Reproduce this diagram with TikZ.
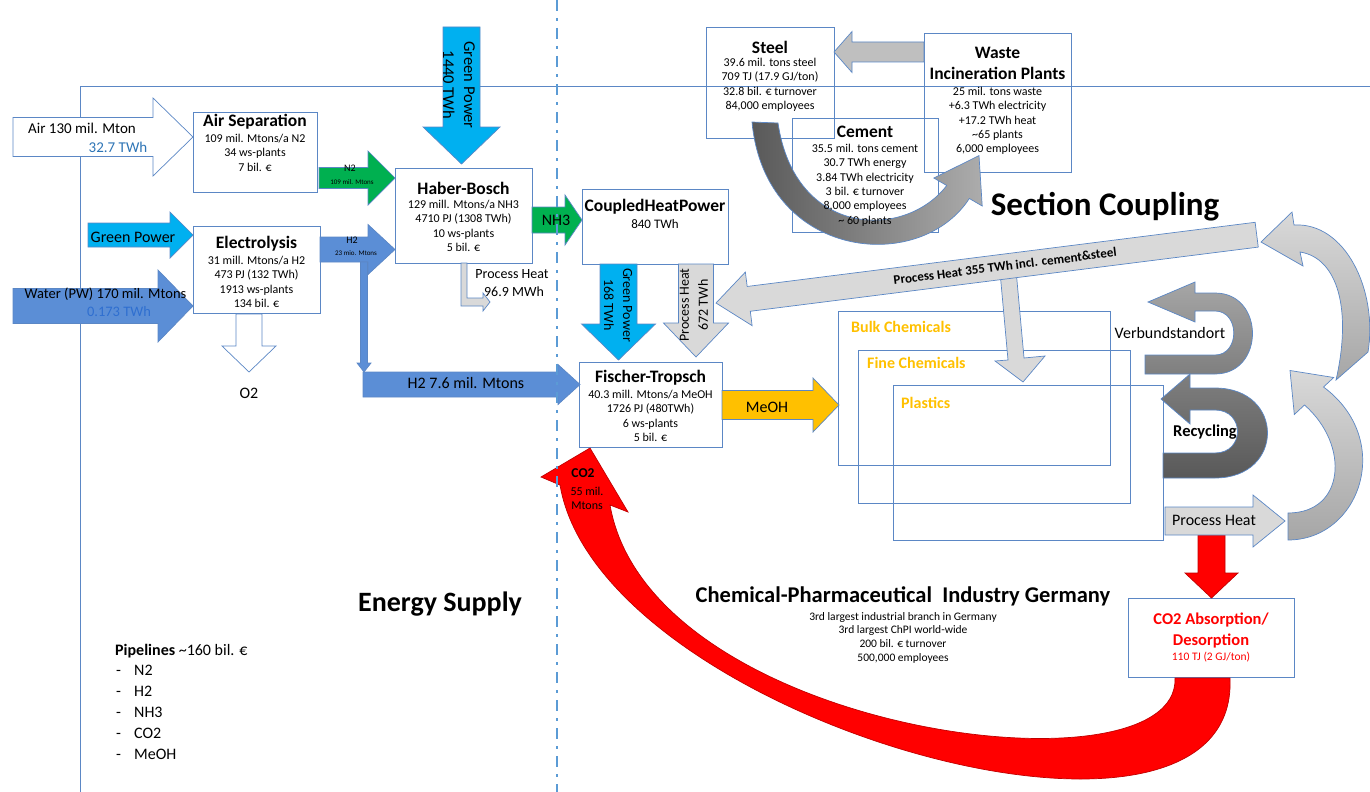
\documentclass[tikz,border=0pt]{standalone}
\usepackage{fontspec}
\setmainfont{Carlito}
\usetikzlibrary{calc}
\definecolor{boxblue}{HTML}{5B87C5}
\definecolor{cyanf}{HTML}{00B0F0}
\definecolor{greenf}{HTML}{00B050}
\definecolor{bluef}{HTML}{5B8ED6}
\definecolor{yellowf}{HTML}{FFC000}
\definecolor{lgrey}{HTML}{D9D9D9}
\definecolor{greyA}{HTML}{A6A6A6}
\definecolor{greyB}{HTML}{7F7F7F}
\definecolor{greyC}{HTML}{595959}
\definecolor{greyD}{HTML}{BFBFBF}
\definecolor{redf}{HTML}{FF0000}
\definecolor{darkred}{HTML}{C00000}
\definecolor{dashblue}{HTML}{5B9BD5}
\definecolor{txtblue}{HTML}{2E75B6}
\definecolor{waterblue}{HTML}{2F6FD0}
\definecolor{orangetxt}{HTML}{FFC000}
\newcommand{\fsz}[2]{\fontsize{#1}{#2}\selectfont}
\newcommand{\blockH}[7]{\draw[#1] (#2,#5-#6) -- (#3,#5-#6) -- (#3,#5-#7) -- (#4,#5) -- (#3,#5+#7) -- (#3,#5+#6) -- (#2,#5+#6) -- cycle;}
\newcommand{\blockV}[7]{\draw[#1] (#2-#6,#3) -- (#2-#6,#4) -- (#2-#7,#4) -- (#2,#5) -- (#2+#7,#4) -- (#2+#6,#4) -- (#2+#6,#3) -- cycle;}
\tikzset{
 box/.style={draw=boxblue, line width=0.9pt, inner sep=0pt, rectangle},
 arr/.style={draw=boxblue, line width=0.7pt, line join=miter},
 whitearr/.style={arr, fill=white},
 cyanarr/.style={arr, fill=cyanf},
 greenarr/.style={arr, fill=greenf},
 bluearr/.style={arr, fill=bluef},
 yellowarr/.style={arr, fill=yellowf},
 greyarr/.style={arr, fill=lgrey},
 midgreyarr/.style={arr, fill=greyD},
 garr/.style={draw=boxblue, line width=0.7pt, line join=miter},
 redarr/.style={draw=darkred, line width=0.7pt, fill=redf, line join=miter},
 ttl/.style={font=\bfseries\fsz{17.5}{21}, inner sep=0pt, align=center},
 bodytxt/.style={font=\fsz{12}{14.3}, inner sep=0pt, align=center},
 lbl/.style={inner sep=0pt, align=center},
 frameline/.style={draw=boxblue, line width=0.8pt},
 dashdotline/.style={draw=dashblue, line width=2.2pt, dash pattern=on 11pt off 7pt on 3pt off 7pt},
}
\begin{document}
\begin{tikzpicture}[x=1pt,y=-1pt]
\useasboundingbox (0,0) rectangle (1370,792);
% frame lines
\draw[frameline] (80,792) -- (80,86) -- (1370,86);

% boxes
\node[box, minimum width=124pt, minimum height=80pt] (airsep) at (255,152) {};
\node[box, minimum width=127pt, minimum height=87pt] (elec) at (256.5,269.5) {};
\node[box, minimum width=137pt, minimum height=95pt] (hb) at (463.5,215.5) {};
\node[box, minimum width=146pt, minimum height=75pt] (chp) at (655,226.5) {};
\node[box, minimum width=143pt, minimum height=85pt] (ft) at (650.5,404.5) {};
\node[box, minimum width=128pt, minimum height=111pt] (steel) at (770,82.5) {};
\node[box, minimum width=147pt, minimum height=139pt] (waste) at (997.5,102.5) {};
\node[box, minimum width=146pt, minimum height=114pt] (cement) at (865,175) {};
\node[box, minimum width=272pt, minimum height=154pt] (bulk) at (974,388) {};
\node[box, minimum width=272pt, minimum height=153pt] (fine) at (994,426.5) {};
\node[box, minimum width=270pt, minimum height=155pt] (plast) at (1028,462.5) {};
\node[box, minimum width=166pt, minimum height=79pt] (co2box) at (1211,637.5) {};

% straight block arrows
\blockH{whitearr}{13}{153}{193}{137}{19.5}{39}
\blockH{greenarr}{319}{368}{395}{178}{10.5}{27}
\blockH{cyanarr}{88}{170}{193}{235}{12}{23}
\blockH{bluearr}{13}{158}{193}{306}{17.5}{36}
\blockH{bluearr}{320}{368}{395}{249.5}{12.5}{25}
\blockV{bluearr}{364}{262}{363}{372}{3.5}{7}
\blockH{bluearr}{363}{558}{580}{384.5}{12.5}{20}
\blockH{greenarr}{532}{565}{582}{220}{13}{25}
\blockH{yellowarr}{722}{813}{839}{405}{14.5}{27}
\blockV{whitearr}{249}{314}{346}{372}{13}{27}
\blockV{cyanarr}{461.5}{27}{127}{164}{18.5}{38.5}
\blockV{cyanarr}{618.5}{264}{324}{360}{18.5}{37}
\blockV{greyarr}{696}{264}{323}{357}{17.5}{32.5}
\blockH{midgreyarr}{924}{852}{834}{52}{10}{20.5}
\blockV{redarr}{1211.5}{535}{573}{598}{13.5}{26.5}
\blockH{greyarr}{1165}{1253}{1285}{521}{14}{26}
% L-shaped process heat arrow below Haber-Bosch
\draw[greyarr] (461,263) -- (467,263) -- (467,298) -- (483,298) -- (483,293) -- (490,302) -- (483,311) -- (483,306) -- (461,306) -- cycle;

% branch to chemicals
\draw[greyarr] (1000,272) -- (1008,360) -- (995,361) -- (1023,382) -- (1045,356) -- (1024,358) -- (1016,270) -- cycle;
% process heat 355 arrow
\begin{scope}[shift={(716,303)}, rotate=7.2]
\draw[greyarr] (0,0) -- (33,-27) -- (33,-12.5) -- (545,-12.5) -- (545,12.5) -- (33,12.5) -- (33,27) -- cycle;
\end{scope}

% steel - cement - waste curved arrow
\shadedraw[garr, left color=greyC, right color=gray!65] (752,122) .. controls (765,260) and (920,275) .. (969.3,198.5) -- (982.2,206) -- (979,155.6) -- (933.8,178) -- (946.7,185.5) .. controls (905,240) and (795,238) .. (778,123) -- cycle;

% right-hand arcs
\shadedraw[garr, top color=lgrey, bottom color=greyA] (1294,225) .. controls (1345,222) and (1378,290) .. (1368,352) -- (1336,380) .. controls (1352,310) and (1338,258) .. (1300,252) -- (1303,266) -- (1261,242) -- (1292,212) -- cycle;
\shadedraw[garr, top color=lgrey, bottom color=greyA] (1288,540) .. controls (1360,540) and (1395,440) .. (1323.5,387) -- (1333.7,377.5) -- (1290,370.5) -- (1294.3,414.5) -- (1304.5,405) .. controls (1350,445) and (1345,513) .. (1288,513) -- cycle;

% Verbundstandort loop
\shadedraw[garr, top color=greyA, bottom color=greyB] (1145,355) -- (1215,355) .. controls (1240,355) and (1240,311) .. (1215,311) -- (1195,311) -- (1195,322) -- (1148,302) -- (1195,282) -- (1195,293) -- (1215,293) .. controls (1265,293) and (1265,374) .. (1215,374) -- (1145,374) -- cycle;
% Recycling loop
\shadedraw[garr, top color=greyB, bottom color=greyC] (1163,453) -- (1215,453) .. controls (1245,453) and (1245,410) .. (1215,410) -- (1190,410) -- (1190,424) -- (1161,399) -- (1190,374) -- (1190,388) -- (1215,388) .. controls (1285,388) and (1285,478) .. (1215,478) -- (1163,478) -- cycle;

% big red CO2 return arrow
\draw[redarr] (560,485) .. controls (600,720) and (1240,900) .. (1230,678) -- (1175,678) .. controls (1180,800) and (650,735) .. (610,505) -- (628,512) -- (590,448) -- (541,477) -- cycle;

% box texts
\node[ttl] (airsepT) at (255,122) {Air Separation};
\node[bodytxt, anchor=north] (airsepB) at (255,134) {109 mil. Mtons/a N2\\34 ws-plants\\7 bil. €};
\node[ttl] (elecT) at (256.5,244) {Electrolysis};
\node[bodytxt, anchor=north] (elecB) at (256.5,256) {31 mill. Mtons/a H2\\473 PJ (132 TWh)\\1913 ws-plants\\134 bil. €};
\node[ttl] (hbT) at (463.5,188) {Haber-Bosch};
\node[bodytxt, anchor=north] (hbB) at (463.5,200) {129 mill. Mtons/a NH3\\4710 PJ (1308 TWh)\\10 ws-plants\\5 bil. €};
\node[ttl] (chpT) at (655,207) {CoupledHeatPower};
\node[lbl, font=\fsz{13}{16}] (chpB) at (655,224) {840 TWh};
\node[ttl] (ftT) at (650.5,378) {Fischer-Tropsch};
\node[bodytxt, anchor=north] (ftB) at (650.5,390) {40.3 mill. Mtons/a MeOH\\1726 PJ (480TWh)\\6 ws-plants\\5 bil. €};
\node[ttl] (steelT) at (770,47) {Steel};
\node[bodytxt, anchor=north] (steelB) at (770,58) {39.6 mil. tons steel\\709 TJ (17.9 GJ/ton)\\32.8 bil. € turnover\\84,000 employees};
\node[ttl, anchor=north] (wasteT) at (997.5,47) {Waste\\Incineration Plants};
\node[bodytxt, anchor=north] (wasteB) at (997.5,87) {25 mil. tons waste\\+6.3 TWh electricity\\+17.2 TWh heat\\\textasciitilde 65 plants\\6,000 employees};
\node[ttl] (cementT) at (865,132) {Cement};
\node[bodytxt, anchor=north] (cementB) at (865,144) {35.5 mil. tons cement\\30.7 TWh energy\\3.84 TWh electricity\\3 bil. € turnover\\8,000 employees\\\textasciitilde{} 60 plants};
\node[lbl, anchor=north, font=\bfseries\fsz{16.5}{21}, text=redf] (co2T) at (1211,612.5) {CO2 Absorption/\\Desorption};
\node[lbl, font=\fsz{11.5}{14}, text=redf] (co2B) at (1211,657) {110 TJ (2 GJ/ton)};

% arrow labels
\node[lbl, font=\fsz{15}{18}] (airtxt) at (82,128) {Air 130 mil. Mton};
\node[lbl, font=\fsz{15}{18}, text=txtblue] (airtwh) at (118,147) {32.7 TWh};
\node[lbl, font=\fsz{10}{12}] (n2txt) at (350,168) {N2};
\node[lbl, font=\fsz{7}{8}] (n2sub) at (352,182) {109 mil. Mtons};
\node[lbl, font=\fsz{16}{19}] (gptxt) at (133,237) {Green Power};
\node[lbl, font=\fsz{14.5}{17}] (watertxt) at (105.5,294) {Water (PW) 170 mil. Mtons};
\node[lbl, font=\fsz{14.5}{17}, text=waterblue] (watertwh) at (119,312) {0.173 TWh};
\node[lbl, font=\fsz{10}{12}] (h2txt) at (352,240) {H2};
\node[lbl, font=\fsz{7}{8}] (h2sub) at (356,253) {23 mio. Mtons};
\node[lbl, font=\fsz{16}{19}] (o2txt) at (249,393) {O2};
\node[lbl, font=\fsz{16}{19}] (h2big) at (466,383) {H2 7.6 mil. Mtons};
\node[lbl, font=\fsz{16}{19}] (nh3txt) at (556,220) {NH3};
\node[lbl, font=\fsz{16.5}{21}, rotate=-90] (gp1440) at (459,85) {Green Power\\1440 TWh};
\node[lbl, font=\fsz{14}{19}, rotate=-90] (gp168) at (618,305) {Green Power\\168 TWh};
\node[lbl, font=\fsz{14}{19}, rotate=90] (ph672) at (694,305) {Process Heat\\672 TWh};
\node[lbl, font=\fsz{14}{17}] (phhb1) at (512,274) {Process Heat};
\node[lbl, font=\fsz{14}{17}] (phhb2) at (514,292) {96.9 MWh};
\node[lbl, font=\fsz{16}{19}] (meohtxt) at (767,407) {MeOH};
\node[lbl, font=\bfseries\fsz{13}{16}, rotate=7.2] (ph355) at (1005,266) {Process Heat 355 TWh incl. cement\&steel};
\node[lbl, font=\fsz{16}{19}] (phbr) at (1214,520) {Process Heat};
\node[lbl, font=\bfseries\fsz{13.5}{16}] (co2txt) at (583,473) {CO2};
\node[lbl, font=\fsz{12}{14}] (co2sub) at (587,498) {55 mil.\\Mtons};

% chemicals
\node[lbl, anchor=west, font=\bfseries\fsz{16}{19}, text=orangetxt] (bulkT) at (851,327) {Bulk Chemicals};
\node[lbl, anchor=west, font=\bfseries\fsz{16}{19}, text=orangetxt] (fineT) at (867,363) {Fine Chemicals};
\node[lbl, anchor=west, font=\bfseries\fsz{16}{19}, text=orangetxt] (plastT) at (901,403) {Plastics};
\node[lbl, font=\fsz{16}{19}] (verbT) at (1170,333) {Verbundstandort};
\node[lbl, font=\bfseries\fsz{16.5}{19}] (recT) at (1205,432) {Recycling};

% headings
\node[lbl, font=\bfseries\fsz{33}{38}] (secT) at (1105,207) {Section Coupling};
\node[lbl, font=\bfseries\fsz{28}{32}] (enT) at (440,604) {Energy Supply};
\node[lbl, font=\bfseries\fsz{22.5}{26}] (chemT) at (903,596) {Chemical-Pharmaceutical\ \ Industry Germany};
\node[lbl, anchor=north, font=\fsz{11.5}{13.7}] (chemB) at (903,612) {3rd largest industrial branch in Germany\\3rd largest ChPI world-wide\\200 bil. € turnover\\500,000 employees};

% pipelines
\node[lbl, anchor=west, font=\fsz{16}{19}] (pipeT) at (115,651) {\textbf{Pipelines} \textasciitilde 160 bil. €};
\node[anchor=north west, inner sep=0pt, align=left, font=\fsz{16}{21}] (pipeL) at (116,665) {\makebox[18pt][l]{-}N2\\\makebox[18pt][l]{-}H2\\\makebox[18pt][l]{-}NH3\\\makebox[18pt][l]{-}CO2\\\makebox[18pt][l]{-}MeOH};

% dash-dot divider
\draw[dashdotline] (557,0) -- (557,792);
\end{tikzpicture}
\end{document}
